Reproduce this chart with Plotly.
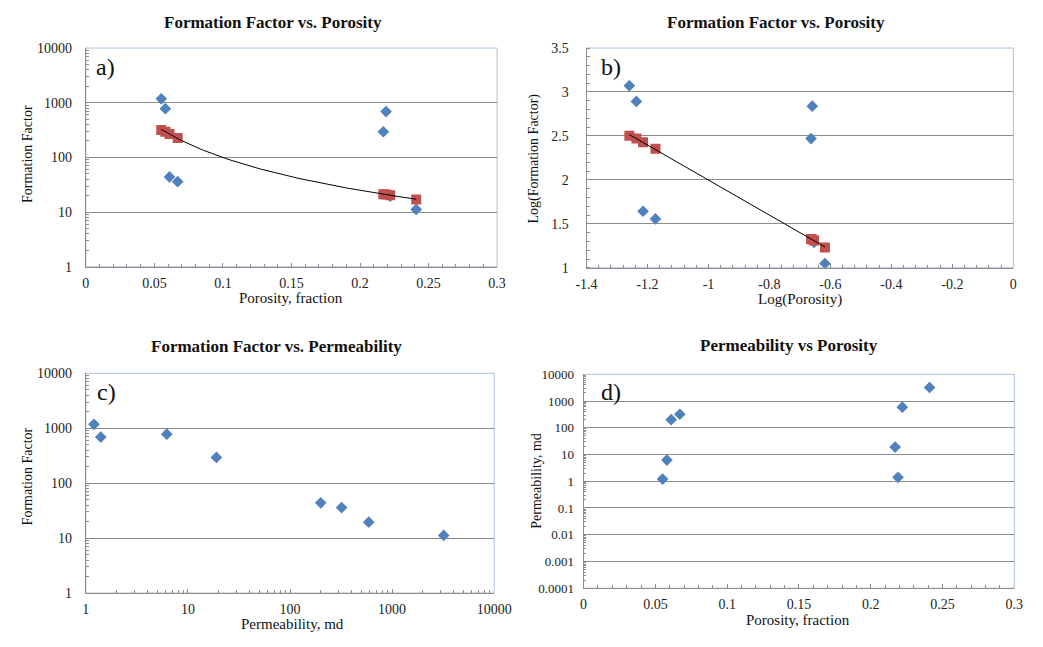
import numpy as np
import plotly.graph_objects as go

# ---- data ----
porosity = [0.055, 0.058, 0.061, 0.067, 0.219, 0.217, 0.222, 0.241]
permeability = [1.2, 6.2, 200, 320, 1.4, 19, 590, 3200]
formation_factor = [1180, 780, 44, 36, 690, 295, 19.5, 11.2]
ff_fit = [318, 296, 268, 226, 21.0, 21.3, 20.4, 17.0]

log_ticks_ff = [1, 10, 100, 1000, 10000]
log_ticklabels_ff = ["1", "10", "100", "1000", "10000"]
log_ticks_k = [1, 10, 100, 1000, 10000]
log_ticklabels_k = ["1", "10", "100", "1000", "10000"]
d_ticks = [0.0001, 0.001, 0.01, 0.1, 1, 10, 100, 1000, 10000]
d_ticklabels = ["0.0001", "0.001", "0.01", "0.1", "1", "10", "100", "1000", "10000"]
por_ticks = [0, 0.05, 0.1, 0.15, 0.2, 0.25, 0.3]
por_ticklabels = ["0", "0.05", "0.1", "0.15", "0.2", "0.25", "0.3"]
logpor_ticks = [-1.4, -1.2, -1.0, -0.8, -0.6, -0.4, -0.2, 0]
logpor_ticklabels = ["-1.4", "-1.2", "-1", "-0.8", "-0.6", "-0.4", "-0.2", "0"]
logff_ticks = [1, 1.5, 2, 2.5, 3, 3.5]
logff_ticklabels = ["1", "1.5", "2", "2.5", "3", "3.5"]

titles = ["Formation Factor vs. Porosity", "Formation Factor vs. Porosity",
          "Formation Factor vs. Permeability", "Permeability vs Porosity"]
panel_labels = ["a)", "b)", "c)", "d)"]

# ---- derived ----
log_por = np.log10(porosity)
log_ff = np.log10(formation_factor)
log_fit = np.log10(ff_fit)
coef = np.polyfit(log_por, log_fit, 1)
phi_curve = np.linspace(min(porosity), max(porosity), 80)
ff_curve = 10 ** np.polyval(coef, np.log10(phi_curve))
lp_line = np.array([log_por.min(), log_por.max()])
lf_line = np.polyval(coef, lp_line)

W, H = 1043, 647
BLUE = "#4F81BD"
RED = "#C0504D"
GRID = "#8C8C8C"
AXIS = "#8C8C8C"
BORDER = "#A9C1DC"
FONT = "Liberation Serif, Times New Roman, DejaVu Serif, serif"

def px(x):
    return x / W

def py(y):
    return 1 - y / H

diamond = dict(symbol="diamond", size=9, color=BLUE)
square = dict(symbol="square", size=10, color=RED)

fig = go.Figure()
# panel a
fig.add_trace(go.Scatter(x=porosity, y=formation_factor, mode="markers", marker=diamond,
                         xaxis="x", yaxis="y", showlegend=False))
fig.add_trace(go.Scatter(x=porosity, y=ff_fit, mode="markers", marker=square,
                         xaxis="x", yaxis="y", showlegend=False))
fig.add_trace(go.Scatter(x=phi_curve, y=ff_curve, mode="lines", line=dict(color="black", width=1),
                         xaxis="x", yaxis="y", showlegend=False))
# panel b
fig.add_trace(go.Scatter(x=log_por, y=log_ff, mode="markers", marker=diamond,
                         xaxis="x2", yaxis="y2", showlegend=False))
fig.add_trace(go.Scatter(x=log_por, y=log_fit, mode="markers", marker=square,
                         xaxis="x2", yaxis="y2", showlegend=False))
fig.add_trace(go.Scatter(x=lp_line, y=lf_line, mode="lines", line=dict(color="black", width=1),
                         xaxis="x2", yaxis="y2", showlegend=False))
# panel c
fig.add_trace(go.Scatter(x=permeability, y=formation_factor, mode="markers", marker=diamond,
                         xaxis="x3", yaxis="y3", showlegend=False))
# panel d
fig.add_trace(go.Scatter(x=porosity, y=permeability, mode="markers", marker=diamond,
                         xaxis="x4", yaxis="y4", showlegend=False))

tickfont = dict(family=FONT, size=14, color="#222222")

def minor_log(lo, hi):
    vals = []
    for e in range(lo, hi):
        for m in range(2, 10):
            vals.append(m * 10 ** e)
    return vals

common_x = dict(showgrid=False, zeroline=False, showline=True, linecolor=AXIS, linewidth=1,
                ticks="inside", ticklen=4, tickcolor=AXIS, tickfont=tickfont, ticklabelstandoff=3)
common_y = dict(showgrid=True, gridcolor=GRID, gridwidth=1, zeroline=False, showline=True,
                linecolor=AXIS, linewidth=1, ticks="", tickfont=tickfont, ticklabelstandoff=10)

dom = {
    "a": ([px(77), px(500)], [py(266), py(42)]),
    "b": ([px(592), px(1031)], [py(267), py(42)]),
    "c": ([px(77), px(497)], [py(600), py(375)]),
    "d": ([px(589), px(1032)], [py(595), py(376)]),
}

fig.update_layout(
    width=W, height=H, margin=dict(l=0, r=0, t=0, b=0),
    paper_bgcolor="white", plot_bgcolor="white",
    font=dict(family=FONT, color="#222222"),
    xaxis=dict(common_x, domain=dom["a"][0], anchor="y", range=[0, 0.3],
               tickvals=por_ticks, ticktext=por_ticklabels,
               minor=dict(dtick=0.01, ticks="inside", ticklen=3, tickcolor=AXIS)),
    yaxis=dict(common_y, domain=dom["a"][1], anchor="x", type="log", range=[0, 4],
               tickvals=log_ticks_ff, ticktext=log_ticklabels_ff,
               minor=dict(tickvals=minor_log(0, 4), ticks="inside", ticklen=3, tickcolor=AXIS, showgrid=False)),
    xaxis2=dict(common_x, domain=dom["b"][0], anchor="y2", range=[-1.4, 0],
                tickvals=logpor_ticks, ticktext=logpor_ticklabels,
                minor=dict(dtick=0.04, tick0=0, ticks="inside", ticklen=3, tickcolor=AXIS)),
    yaxis2=dict(common_y, domain=dom["b"][1], anchor="x2", range=[1, 3.5],
                tickvals=logff_ticks, ticktext=logff_ticklabels, ticklabelstandoff=14,
                minor=dict(dtick=0.1, ticks="inside", ticklen=3, tickcolor=AXIS, showgrid=False)),
    xaxis3=dict(common_x, domain=dom["c"][0], anchor="y3", type="log", range=[0, 4],
                tickvals=log_ticks_k, ticktext=log_ticklabels_k,
                minor=dict(tickvals=minor_log(0, 4), ticks="inside", ticklen=3, tickcolor=AXIS)),
    yaxis3=dict(common_y, domain=dom["c"][1], anchor="x3", type="log", range=[0, 4],
                tickvals=log_ticks_ff, ticktext=log_ticklabels_ff,
                minor=dict(tickvals=minor_log(0, 4), ticks="inside", ticklen=3, tickcolor=AXIS, showgrid=False)),
    xaxis4=dict(common_x, domain=dom["d"][0], anchor="y4", range=[0, 0.3],
                tickvals=por_ticks, ticktext=por_ticklabels,
                minor=dict(dtick=0.01, ticks="inside", ticklen=3, tickcolor=AXIS)),
    yaxis4=dict(common_y, domain=dom["d"][1], anchor="x4", type="log", range=[-4, 4],
                tickvals=d_ticks, ticktext=d_ticklabels, ticklabelstandoff=6,
                tickfont=dict(family=FONT, size=13, color="#222222"),
                minor=dict(tickvals=minor_log(-4, 4), ticks="inside", ticklen=2, tickcolor=AXIS, showgrid=False)),
)

# plot-area borders (light blue, Excel-like)
shapes = []
for xa, ya in [("x", "y"), ("x2", "y2"), ("x3", "y3"), ("x4", "y4")]:
    shapes.append(dict(type="rect", xref=f"{xa} domain", yref=f"{ya} domain", x0=0, x1=1, y0=0, y1=1,
                       line=dict(color=BORDER, width=1), fillcolor="rgba(0,0,0,0)", layer="below"))
fig.update_layout(shapes=shapes)

ann = []
title_pos = [(270, 16), (787, 16), (273, 348), (800, 347)]
for t, (x, y) in zip(titles, title_pos):
    ann.append(dict(text=f"<b>{t}</b>", x=px(x), y=py(y), xref="paper", yref="paper",
                    xanchor="center", yanchor="middle", showarrow=False,
                    font=dict(family=FONT, size=17, color="#111111")))
label_pos = [(97, 61), (617, 61), (98, 394), (617, 394)]
for t, (x, y) in zip(panel_labels, label_pos):
    ann.append(dict(text=t, x=px(x), y=py(y), xref="paper", yref="paper",
                    xanchor="center", yanchor="middle", showarrow=False,
                    font=dict(family=FONT, size=24, color="#111111")))
xt = [("Porosity, fraction", 288, 298), ("Log(Porosity)", 812, 299),
      ("Permeability, md", 290, 632), ("Porosity, fraction", 810, 628)]
for t, x, y in xt:
    ann.append(dict(text=t, x=px(x), y=py(y), xref="paper", yref="paper",
                    xanchor="center", yanchor="middle", showarrow=False,
                    font=dict(family=FONT, size=15, color="#111111")))
yt = [("Formation Factor", 17, 151), ("Log(Formation Factor)", 538, 155),
      ("Formation Factor", 17, 481), ("Permeability, md", 541, 485)]
for t, x, y in yt:
    ann.append(dict(text=t, x=px(x), y=py(y), xref="paper", yref="paper", textangle=-90,
                    xanchor="center", yanchor="middle", showarrow=False,
                    font=dict(family=FONT, size=14, color="#111111")))
fig.update_layout(annotations=ann)

fig.write_html("out.html")
